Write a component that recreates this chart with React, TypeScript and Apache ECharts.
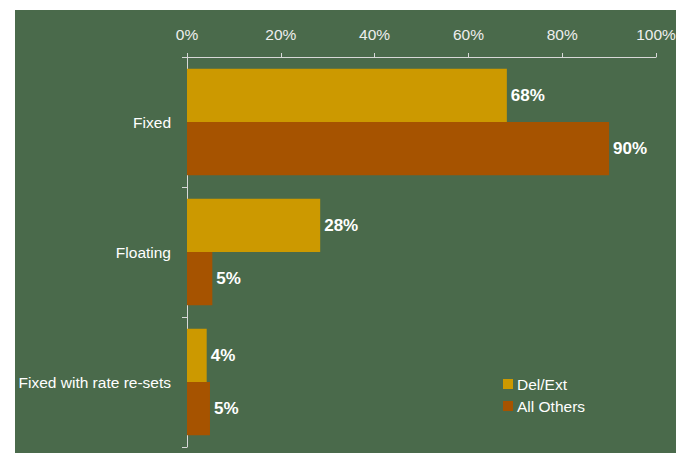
import React, { useEffect, useRef } from "react";
import * as echarts from "echarts";

const categories = ["Fixed", "Floating", "Fixed with rate re-sets"];
const delExt = [68.2, 28.4, 4.2];
const allOthers = [90, 5.4, 4.9];
const seriesNames = ["Del/Ext", "All Others"];
const xTicks = [0, 20, 40, 60, 80, 100];

export default function App() {
  const ref = useRef<HTMLDivElement>(null);
  useEffect(() => {
    if (!ref.current) return;
    const chart = echarts.init(ref.current, undefined, { renderer: "svg" });
    const font = "'Liberation Sans', Arial, sans-serif";
    const labelCfg = {
      show: true,
      position: "right",
      distance: 4,
      color: "#ffffff",
      fontWeight: "bold",
      fontSize: 17,
      fontFamily: font,
      formatter: (p: any) => Math.round(p.value) + "%",
    };
    chart.setOption({
      animation: false,
      backgroundColor: "#4A6A4B",
      grid: {
        left: 172,
        right: 20,
        top: 47,
        bottom: 6,
        containLabel: false,
        outerBoundsMode: "none",
      },
      xAxis: {
        type: "value",
        position: "top",
        min: xTicks[0],
        max: xTicks[xTicks.length - 1],
        interval: 20,
        axisLine: { show: true, lineStyle: { color: "#d8d8d8", width: 1 } },
        axisTick: { show: true, length: 4, lineStyle: { color: "#d8d8d8" } },
        splitLine: { show: false },
        axisLabel: {
          formatter: "{value}%",
          color: "#eeeeee",
          fontSize: 15.5,
          fontFamily: font,
          margin: 15,
        },
      },
      yAxis: {
        type: "category",
        inverse: true,
        data: categories,
        axisLine: { show: true, lineStyle: { color: "#d8d8d8", width: 1 } },
        axisTick: { show: true, length: 5, lineStyle: { color: "#d8d8d8" } },
        axisLabel: {
          color: "#ffffff",
          fontSize: 15.5,
          fontFamily: font,
          margin: 16,
        },
      },
      legend: {
        orient: "vertical",
        left: 488,
        top: 366,
        padding: 0,
        itemWidth: 10,
        itemHeight: 10,
        itemGap: 6,
        icon: "rect",
        textStyle: { color: "#ffffff", fontSize: 15.5, fontFamily: font, padding: [0, 0, 0, -1] },
        data: seriesNames,
      },
      series: [
        {
          name: seriesNames[0],
          type: "bar",
          data: delExt,
          barGap: "0%",
          barCategoryGap: "18%",
          itemStyle: { color: "#CC9900" },
          label: labelCfg,
          z: 1,
        },
        {
          name: seriesNames[1],
          type: "bar",
          data: allOthers,
          barGap: "0%",
          barCategoryGap: "18%",
          itemStyle: { color: "#A65300" },
          label: labelCfg,
          z: 1,
        },
      ],
    });
    return () => chart.dispose();
  }, []);
  return (
    <div
      style={{
        position: "absolute",
        left: 0,
        top: 0,
        width: 676,
        height: 453,
        background: "#ffffff",
      }}
    >
      <div
        ref={ref}
        style={{ position: "absolute", left: 15, top: 10, width: 661, height: 443 }}
      />
    </div>
  );
}
